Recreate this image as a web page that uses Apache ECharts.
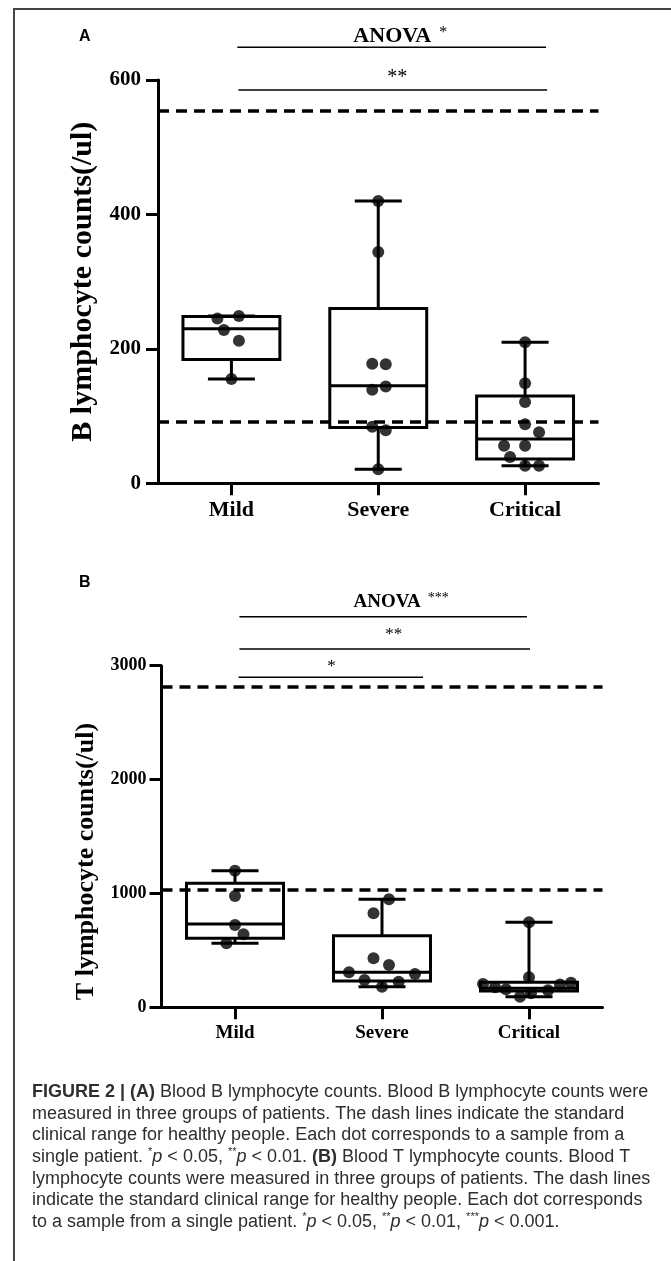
<!DOCTYPE html>
<html>
<head>
<meta charset="utf-8">
<script src="https://cdn.jsdelivr.net/npm/echarts@6/dist/echarts.min.js"></script>
<style>
html,body{margin:0;padding:0;background:#fff;}
#chart{width:671px;height:1261px;}
</style>
</head>
<body>
<div id="chart"></div>
<script>
// ---------- DATA ----------
const categories = ['Mild', 'Severe', 'Critical'];

// Panel A: B lymphocyte counts (/ul)
const bMild = [245, 249, 228, 212, 155];
const bSevere = [420, 344, 178, 177, 144, 139, 84, 79, 21];
const bCritical = [210, 149, 121, 88, 76, 56, 56, 39, 26, 26];
// box stats [min, Q1, median, Q3, max]
const bBoxMild = [155, 184, 230, 248, 249];
const bBoxSevere = [21, 83, 145, 260, 420];
const bBoxCritical = [26, 36, 66, 130, 210];
const bNormalRange = [92, 554];
const bTicks = [0, 200, 400, 600];

// Panel B: T lymphocyte counts (/ul)
const tMild = [1200, 977, 723, 641, 562];
const tSevere = [948, 825, 430, 372, 307, 293, 240, 225, 181];
const tCritical = [746, 263, 204, 176, 158, 93, 123, 150, 200, 215];
const tBoxMild = [562, 606, 732, 1089, 1200];
const tBoxSevere = [181, 231, 307, 629, 948];
const tBoxCritical = [93, 143, 167, 219, 746];
const tNormalRange = [1030, 2815];
const tTicks = [0, 1000, 2000, 3000];

// significance annotations (group span, bracket level, text)
const sigA = [
  { text: 'ANOVA', stars: '*', from: 0.04, to: 2.143, level: 648.6, textLevel: 665, textAt: 1.15 },
  { text: '', stars: '**', from: 0.048, to: 2.15, level: 585, textLevel: 604, textAt: 1.13 }
];
const sigB = [
  { text: 'ANOVA', stars: '***', from: 0.03, to: 1.986, level: 3430, textLevel: 3562, textAt: 1.13 },
  { text: '', stars: '**', from: 0.03, to: 2.007, level: 3147, textLevel: 3272, textAt: 1.08 },
  { text: '', stars: '*', from: 0.024, to: 1.279, level: 2898, textLevel: 2997, textAt: 0.656 }
];

// ---------- LAYOUT (dot jitter in px) ----------
const jitA = [
  [-14, 7.5, -7.5, 7.5, 0],
  [0, 0, -6, 7.5, 7.5, -6, -6, 7.5, 0],
  [0, 0, 0, 0, 14, -21, 0, -15, 0, 14]
];
const jitB = [
  [0, 0, 0, 8.5, -8.5],
  [7, -8.5, -8.5, 7, -33, 33, -17.5, 16.7, 0],
  [0, 0, -46, -34, -23, -9, 2, 19, 31, 42]
];

const SERIF = "'Liberation Serif', 'Times New Roman', serif";
const SANS = "'Liberation Sans', Arial, sans-serif";

function pointsData(groups, jit) {
  const out = [];
  groups.forEach((vals, ci) => {
    vals.forEach((v, k) => {
      out.push({ value: [ci, v], symbolOffset: [jit[ci][k], 0] });
    });
  });
  return out;
}

function boxRender(params, api) {
  const ci = api.value(0);
  const band = api.size([1, 0])[0];
  const bw = band * 0.33;
  const cw = band * 0.16;
  const pMin = api.coord([ci, api.value(1)]);
  const pQ1 = api.coord([ci, api.value(2)]);
  const pMed = api.coord([ci, api.value(3)]);
  const pQ3 = api.coord([ci, api.value(4)]);
  const pMax = api.coord([ci, api.value(5)]);
  const x = pMed[0];
  const st = { stroke: '#000', lineWidth: 3, fill: null };
  return {
    type: 'group',
    children: [
      { type: 'line', shape: { x1: x, y1: pQ3[1], x2: x, y2: pMax[1] }, style: st },
      { type: 'line', shape: { x1: x, y1: pQ1[1], x2: x, y2: pMin[1] }, style: st },
      { type: 'line', shape: { x1: x - cw, y1: pMax[1], x2: x + cw, y2: pMax[1] }, style: st },
      { type: 'line', shape: { x1: x - cw, y1: pMin[1], x2: x + cw, y2: pMin[1] }, style: st },
      { type: 'rect', shape: { x: x - bw, y: pQ3[1], width: 2 * bw, height: pQ1[1] - pQ3[1] }, style: { stroke: '#000', lineWidth: 3, fill: '#fff' } },
      { type: 'line', shape: { x1: x - bw, y1: pMed[1], x2: x + bw, y2: pMed[1] }, style: st }
    ]
  };
}

function sigRenderFactory(list, big, small, starSize) {
  return function (params, api) {
    const s = list[params.dataIndex];
    const p0 = api.coord([api.value(0), api.value(2)]);
    const p1 = api.coord([api.value(1), api.value(2)]);
    const pt = api.coord([api.value(4), api.value(3)]);
    const txt = s.text ? '{a|' + s.text + '}{s|  ' + s.stars + '}' : '{s2|' + s.stars + '}';
    return {
      type: 'group',
      children: [
        { type: 'line', shape: { x1: p0[0], y1: p0[1], x2: p1[0], y2: p1[1] }, style: { stroke: '#000', lineWidth: 1.5 } },
        {
          type: 'text', x: pt[0], y: pt[1],
          style: {
            text: txt, align: 'center', verticalAlign: 'middle', fill: '#000',
            rich: {
              a: { fontFamily: SERIF, fontWeight: 'bold', fontSize: big, fill: '#000', lineHeight: big + 2 },
              s: { fontFamily: SERIF, fontWeight: 'normal', fontSize: starSize, fill: '#000', lineHeight: big + 2, verticalAlign: 'top' },
              s2: { fontFamily: SERIF, fontWeight: 'normal', fontSize: small, fill: '#000' }
            }
          }
        }
      ]
    };
  };
}

function yAxisCfg(gi, name, ticks, fontSize, nameSize, nameGap, labelMargin, namePad) {
  return {
    type: 'value', gridIndex: gi, min: ticks[0], max: ticks[ticks.length - 1],
    interval: ticks[1] - ticks[0],
    name: name, nameLocation: 'middle', nameGap: nameGap,
    nameTextStyle: { fontFamily: SERIF, fontWeight: 'bold', fontSize: nameSize, color: '#000', padding: namePad },
    axisLine: { show: true, onZero: false, lineStyle: { color: '#000', width: 3 } },
    axisTick: { show: true, length: 12, lineStyle: { color: '#000', width: 3 } },
    axisLabel: { fontFamily: SERIF, fontWeight: 'bold', fontSize: fontSize, color: '#000', margin: labelMargin, formatter: v => String(v) },
    splitLine: { show: false }
  };
}

function xCatCfg(gi, fontSize, margin) {
  return {
    type: 'category', gridIndex: gi, data: categories,
    axisLine: { show: true, onZero: false, lineStyle: { color: '#000', width: 3 } },
    axisTick: { show: true, alignWithLabel: true, length: 12, lineStyle: { color: '#000', width: 3 } },
    axisLabel: { fontFamily: SERIF, fontWeight: 'bold', fontSize: fontSize, color: '#000', margin: margin },
    splitLine: { show: false }
  };
}

function refLines(range) {
  return {
    silent: true, symbol: ['none', 'none'], label: { show: false },
    lineStyle: { color: '#000', width: 3.5, type: [11, 7] },
    animation: false,
    data: range.map(v => ({ yAxis: v }))
  };
}

const caption =
  '{b|FIGURE 2 | (A)} Blood B lymphocyte counts. Blood B lymphocyte counts were\n' +
  'measured in three groups of patients. The dash lines indicate the standard\n' +
  'clinical range for healthy people. Each dot corresponds to a sample from a\n' +
  'single patient. {sup|*}{i|p} < 0.05, {sup|**}{i|p} < 0.01. {b|(B)} Blood T lymphocyte counts. Blood T\n' +
  'lymphocyte counts were measured in three groups of patients. The dash lines\n' +
  'indicate the standard clinical range for healthy people. Each dot corresponds\n' +
  'to a sample from a single patient. {sup|*}{i|p} < 0.05, {sup|**}{i|p} < 0.01, {sup|***}{i|p} < 0.001.';

const CAP_FS = 18, CAP_LH = 21.7, CAP_COL = '#2e2e2e';

const chart = echarts.init(document.getElementById('chart'), null, { renderer: 'canvas' });
chart.setOption({
  animation: false,
  backgroundColor: '#fff',
  title: [
    { text: 'A', left: 79, top: 29, padding: 0, textStyle: { fontFamily: SANS, fontWeight: 'bold', fontSize: 16, color: '#000' } },
    { text: 'B', left: 79, top: 575, padding: 0, textStyle: { fontFamily: SANS, fontWeight: 'bold', fontSize: 16, color: '#000' } },
    {
      text: caption, left: 32, top: 1081, padding: 0,
      textStyle: {
        fontFamily: SANS, fontWeight: 'normal', fontSize: CAP_FS, lineHeight: CAP_LH, color: CAP_COL,
        rich: {
          b: { fontFamily: SANS, fontWeight: 'bold', fontSize: CAP_FS, lineHeight: CAP_LH, color: CAP_COL },
          i: { fontFamily: SANS, fontStyle: 'italic', fontSize: CAP_FS, lineHeight: CAP_LH, color: CAP_COL },
          sup: { fontFamily: SANS, fontSize: 11, lineHeight: CAP_LH, color: CAP_COL, verticalAlign: 'top' }
        }
      }
    }
  ],
  graphic: [
    { type: 'polyline', shape: { points: [[14, 1261], [14, 9], [671, 9]] }, style: { stroke: '#444', lineWidth: 2, fill: null }, silent: true }
  ],
  grid: [
    { left: 158, right: 72.5, top: 80, height: 403.3 },
    { left: 161.5, right: 68.5, top: 665.7, height: 341.6 }
  ],
  xAxis: [
    xCatCfg(0, 22, 16),
    { type: 'value', gridIndex: 0, min: -0.5, max: 2.5, show: false },
    xCatCfg(1, 19, 16),
    { type: 'value', gridIndex: 1, min: -0.5, max: 2.5, show: false }
  ],
  yAxis: [
    yAxisCfg(0, 'B lymphocyte counts(/ul)', bTicks, 21, 30, 55, 17, 0),
    yAxisCfg(1, 'T lymphocyte counts(/ul)', tTicks, 18, 26, 60, 15, [0, 50, 0, 0])
  ],
  series: [
    {
      type: 'custom', name: 'B boxes', xAxisIndex: 0, yAxisIndex: 0, renderItem: boxRender, z: 2,
      encode: { x: 0, y: [1, 2, 3, 4, 5] },
      data: [bBoxMild, bBoxSevere, bBoxCritical].map((b, i) => [i].concat(b))
    },
    {
      type: 'scatter', name: 'B points', xAxisIndex: 0, yAxisIndex: 0, z: 3,
      symbol: 'circle', symbolSize: 12, itemStyle: { color: '#000' },
      data: pointsData([bMild, bSevere, bCritical], jitA),
      markLine: refLines(bNormalRange)
    },
    {
      type: 'custom', name: 'B significance', xAxisIndex: 1, yAxisIndex: 0, clip: false, z: 4,
      renderItem: sigRenderFactory(sigA, 22, 20, 16),
      encode: { x: [0, 1, 4], y: [2, 3] },
      data: sigA.map(s => [s.from, s.to, s.level, s.textLevel, s.textAt])
    },
    {
      type: 'custom', name: 'T boxes', xAxisIndex: 2, yAxisIndex: 1, renderItem: boxRender, z: 2,
      encode: { x: 0, y: [1, 2, 3, 4, 5] },
      data: [tBoxMild, tBoxSevere, tBoxCritical].map((b, i) => [i].concat(b))
    },
    {
      type: 'scatter', name: 'T points', xAxisIndex: 2, yAxisIndex: 1, z: 3,
      symbol: 'circle', symbolSize: 12, itemStyle: { color: '#000' },
      data: pointsData([tMild, tSevere, tCritical], jitB),
      markLine: refLines(tNormalRange)
    },
    {
      type: 'custom', name: 'T significance', xAxisIndex: 3, yAxisIndex: 1, clip: false, z: 4,
      renderItem: sigRenderFactory(sigB, 19, 17, 14),
      encode: { x: [0, 1, 4], y: [2, 3] },
      data: sigB.map(s => [s.from, s.to, s.level, s.textLevel, s.textAt])
    }
  ]
});
</script>
</body>
</html>
